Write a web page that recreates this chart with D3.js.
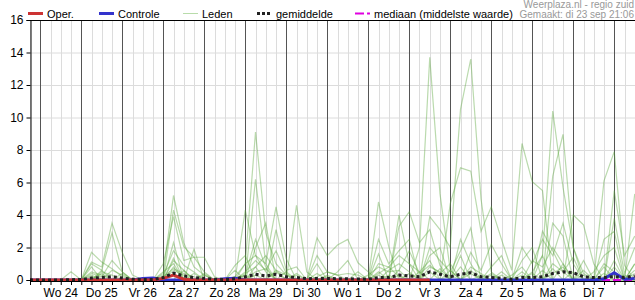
<!DOCTYPE html>
<html>
<head>
<meta charset="utf-8">
<script src="https://cdn.jsdelivr.net/npm/d3@7"></script>
<style>
  body { margin: 0; background: #fff; }
  svg { display: block; font-family: "Liberation Sans", Arial, sans-serif; }
</style>
</head>
<body>
<div id="chart"></div>
<script>
// 6-hourly steps starting di 23 sep 18:00
const startTime = new Date(2025, 8, 23, 18);
const stepHours = 6;

const dayLabels = ["Wo 24", "Do 25", "Vr 26", "Za 27", "Zo 28", "Ma 29", "Di 30",
                   "Wo 1", "Do 2", "Vr 3", "Za 4", "Zo 5", "Ma 6", "Di 7"];
const yTicks = [0, 2, 4, 6, 8, 10, 12, 14, 16];

// operationele run (loopt t/m stap 39)
const oper = [0,0,0,0,0,0,0,0,0,0, 0,0,0,0.1,0.3,0.05,0,0,0,0,
              0,0,0,0,0,0,0,0,0,0, 0,0,0,0,0,0,0,0,0,0];

const controle = [0,0,0,0,0,0,0,0,0,0, 0,0.1,0.12,0,0,0,0,0,0,0.08,
                  0.1,0,0,0,0,0,0,0,0,0, 0,0,0,0,0,0,0,0,0,0,
                  0,0,0,0,0,0,0,0,0,0, 0,0,0,0,0,0,0.08,0.45,0.05,0.1];

const gemiddelde = [0,0,0,0,0.02,0.03,0.12,0.15,0.2,0.12,
                    0.05,0.03,0.03,0.15,0.42,0.25,0.15,0.1,0.05,0.03,
                    0.08,0.2,0.35,0.25,0.35,0.2,0.15,0.08,0.1,0.1,
                    0.08,0.08,0.06,0.05,0.15,0.15,0.3,0.25,0.2,0.5,
                    0.35,0.2,0.35,0.45,0.2,0.15,0.1,0.05,0.15,0.15,
                    0.2,0.4,0.5,0.45,0.2,0.15,0.15,0.2,0.15,0.25];

const mediaan = new Array(60).fill(0);

const leden = [
  [0,0,0,0,0,0,1.7,1.1,0.7,0.2, 0,0,0,0.4,5.2,2.3,0.8,0.3,0,0,
   0.2,1.0,9.1,2.9,1.0,0.3,0,0,0.2,0.5, 0.3,0,0,0,0.4,0.8,0.2,0,2.0,13.7,
   5.3,0.6,0,0,0,0.3,0,0,0,0.5, 1.5,10.4,5.7,2.0,0.4,0,0,0.3,0,0],
  [0,0,0,0,0,0,1.1,0.8,3.5,1.7, 0.3,0,0,0,4.3,2.05,1.4,0.5,0,0,
   0,0,6.2,1.0,4.5,1.3,0,0,0,0, 0,0,0,0,0,0,4.0,1.0,0,3.9,
   3.1,2.0,10.5,13.6,5.0,0.5,0,0,0,0, 0,0,0,0,0,0,6.1,7.9,0.9,0],
  [0,0,0,0,0,0,1.0,0.6,2.9,0.5, 0,0,0,1.0,3.9,1.2,1.4,1.4,0.2,0,
   0,4.3,1.5,0.5,0,0,4.6,0.5,0,0, 0,0,0,0,4.8,2.05,0,0,0,0,
   0,4.7,6.9,6.7,3.0,4.5,2.5,0.6,8.4,6.05, 5.5,0,0,4.0,3.4,1.0,0,0,0,0],
  [0,0,0,0,0.5,0,0.8,0,0,0, 0,0,0,0,2.3,0,0,0,0,0,
   0.9,1.5,0,0,3.1,0.6,0.8,0,2.6,1.5, 2.15,2.5,1.06,0.5,0,0,0,0,0,0,
   0,0,0,1.7,0.6,2.2,1.0,0,0,0, 0,6.4,8.96,2.0,0,0,0,5.5,1.5,2.7],
  [0,0,0,0,0,0,0,0,0,0, 0,0,0,0,1.35,0,1.9,0,0,0,
   0.6,0,2.0,3.5,0,0,0,0,1.5,0.5, 0.3,0.4,0.3,0,1.6,0,3.3,4.2,2.3,3.1,
   0.9,0,1.5,0,0,0,0,0,1.2,2.0, 0,3.5,2.7,0,1.2,0,2.5,3.0,0,5.3],
  [0,0,0,0,0,0,0,0.6,0,0, 0,0,0,0,0.8,0,0,0,0,0,
   0,1.0,1.5,1.0,0,0,0,0,0,0, 0,0,0,0,1.0,0.8,1.5,1.0,0.5,1.2,
   0,0.6,0,0,0,0,0,0,0,0, 1.5,0,0,0,0,0,0,0,0,1.0],
  [0,0,0,0,0,0,0.5,0.3,0,0, 0,0,0,0,0.6,0.3,0,0,0,0,
   0,0.4,0.8,0,0.5,0,0,0,0,0, 0,0,0,0,0.3,0,0.6,0,0,0.8,
   0.5,0,0,0.6,0,0,0,0,0.5,0, 0,1.0,0.5,0,0,0,0,0.8,0,0],
  [0,0,0,0,0,0,0,0,0.6,0.3, 0,0,0,0.5,1.0,0,0.4,0,0,0,
   0,0,0.5,0.7,0,0,0.3,0,0,0, 0,0,0,0,0,0,0,0.4,0,0.5,
   0,0,0.8,0,0,0.4,0,0,0,0, 0.6,0,1.0,0,0,0,0.4,0,0.3,0],
  [0,0,0,0,0,0,0,0.4,0,0, 0,0,0,0,0,0.6,0,0.3,0,0,
   0,0.3,0,0,0.6,0.3,0,0,0.4,0, 0,0,0,0,0,0.3,0,0,0.5,0,
   0,0.3,0,0,0.3,0,0,0,0,0.4, 0,0.7,0,0.5,0,0,0,1.2,0,0.4],
  [0,0,0,0,0,0,0.3,0,0,0, 0,0,0,0,0.4,0,0,0,0,0,
   0.2,0,0.3,0,0,0,0,0,0,0.2, 0,0,0,0,0.5,0,0.3,0,0,0,
   0.7,0,0,0.4,0,0,0.3,0,0.3,0, 0,0.4,0.8,0,0.3,0,0.8,0,0,0],
  [0,0,0,0,0,0,0.4,0.2,1.2,0.5, 0,0,0,0.3,1.8,0.9,0.5,0,0,0,
   0,0.5,1.2,0.6,1.8,0.4,0,0,1.0,0, 0.5,1.2,0,0,2.5,1.0,1.8,2.5,0,1.5,
   2.0,0,2.5,1.0,0,0.8,1.5,0,2.0,1.0, 2.5,1.5,3.5,1.0,0,0.5,1.5,2.0,0,1.0],
  [0,0,0,0,0,0,0,0.5,0.3,0, 0,0,0,0,1.2,0.6,0,0.4,0,0,
   0,0,0.8,1.5,0.6,0,0.4,0,0,0, 0,0,0.5,0,0,0.6,1.0,0.5,0,2.0,
   1.2,0.5,1.8,3.2,0,0,0.5,0,0,1.2, 0.8,2.0,1.0,0,0.6,0,1.0,0.5,0,0.6],
  [0,0,0,0,0,0,0.2,0,0,0.4, 0,0,0,0.2,0.7,0.4,0.2,0,0,0,
   0,0.3,2.5,0.8,0,0.5,0,0,0,0.3, 0,0,0,0.3,0.8,0.5,0.6,1.8,0.4,0.9,
   0.4,1.0,0,0.8,0.4,0,0,0.3,0.8,0, 3.0,1.8,0.5,1.4,0,0,0,3.8,0.4,2.0]
];

const width = 635, height = 300;
const margin = { top: 20, right: 0, bottom: 20, left: 30 };

const timeAt = i => new Date(startTime.getTime() + i * stepHours * 3600 * 1000);
const endTime = timeAt(59);

const svg = d3.select("#chart").append("svg")
    .attr("width", width)
    .attr("height", height);

const x = d3.scaleTime()
    .domain([startTime, endTime])
    .range([margin.left, margin.left + 59 * 10.25]);

const y = d3.scaleLinear()
    .domain([0, 16])
    .range([height - margin.bottom, margin.top]);

const plotRight = width;

// ========= Grid
const grid = svg.append("g");

grid.selectAll(".hgrid")
    .data(yTicks.slice(1))
    .enter()
    .append("line")
    .attr("x1", margin.left).attr("x2", plotRight)
    .attr("y1", d => y(d) + 0.5).attr("y2", d => y(d) + 0.5)
    .attr("stroke", "#dcdcdc");

const sixHours = d3.timeHour.every(6).range(startTime, new Date(endTime.getTime() + 1));
grid.selectAll(".vgrid")
    .data(sixHours)
    .enter()
    .append("line")
    .attr("x1", d => Math.round(x(d)) + 0.5).attr("x2", d => Math.round(x(d)) + 0.5)
    .attr("y1", y(16)).attr("y2", y(0))
    .attr("stroke", d => d.getHours() === 0 ? "#555" : "#dcdcdc");

// ========= Series
const line = d3.line()
    .x((d, i) => x(timeAt(i)))
    .y(d => y(d));

svg.append("g")
    .selectAll("path")
    .data(leden)
    .enter()
    .append("path")
    .attr("d", line)
    .attr("fill", "none")
    .attr("stroke", "#5aa83c")
    .attr("stroke-opacity", 0.42)
    .attr("stroke-width", 1.2);

svg.append("path")
    .datum(mediaan)
    .attr("d", line)
    .attr("fill", "none")
    .attr("stroke", "#e000e0")
    .attr("stroke-width", 2)
    .attr("stroke-dasharray", "8,3");

svg.append("path")
    .datum(controle)
    .attr("d", line)
    .attr("fill", "none")
    .attr("stroke", "#3333cc")
    .attr("stroke-width", 3);

svg.append("path")
    .datum(oper)
    .attr("d", line)
    .attr("fill", "none")
    .attr("stroke", "#cc3333")
    .attr("stroke-width", 3);

svg.append("path")
    .datum(gemiddelde)
    .attr("d", line)
    .attr("fill", "none")
    .attr("stroke", "#222")
    .attr("stroke-width", 3)
    .attr("stroke-dasharray", "3,3");

// ========= Axes
const yAxis = d3.axisLeft(y).tickValues(yTicks).tickSize(4).tickFormat(d3.format("d"));
const gy = svg.append("g")
    .attr("transform", `translate(${margin.left + 0.5},0)`)
    .call(yAxis);
gy.select(".domain").attr("stroke", "#000");
gy.selectAll("text").style("font-size", "12px").attr("fill", "#000");

const xTicks = d3.axisBottom(x).tickValues(sixHours).tickSize(4).tickFormat("");
const gx = svg.append("g")
    .attr("transform", `translate(0,${y(0) + 1})`)
    .call(xTicks);
gx.select(".domain").remove();
gx.selectAll(".tick line").attr("stroke", "#000");

svg.append("line")
    .attr("x1", margin.left).attr("x2", plotRight)
    .attr("y1", y(0) + 1.5).attr("y2", y(0) + 1.5)
    .attr("stroke", "#000");

svg.append("line")
    .attr("x1", margin.left).attr("x2", plotRight)
    .attr("y1", y(16) + 0.5).attr("y2", y(16) + 0.5)
    .attr("stroke", "#000");

// day labels at noon
svg.append("g")
    .selectAll("text")
    .data(dayLabels)
    .enter()
    .append("text")
    .attr("x", (d, i) => x(new Date(2025, 8, 24 + i, 12)))
    .attr("y", 297)
    .attr("text-anchor", "middle")
    .style("font-size", "12px")
    .text(d => d);

// ========= Legend
const legend = [
  { label: "Oper.", x: 28, color: "#cc3333", width: 3, dash: null },
  { label: "Controle", x: 99, color: "#3333cc", width: 3, dash: null },
  { label: "Leden", x: 183, color: "#b8dcaa", width: 1, dash: null },
  { label: "gemiddelde", x: 257, color: "#222", width: 3, dash: "3,2" },
  { label: "mediaan (middelste waarde)", x: 355, color: "#e000e0", width: 2, dash: "9,3" }
];

const lg = svg.append("g")
    .selectAll("g")
    .data(legend)
    .enter()
    .append("g");

lg.append("line")
    .attr("x1", d => d.x).attr("x2", d => d.x + 15)
    .attr("y1", 13.5).attr("y2", 13.5)
    .attr("stroke", d => d.color)
    .attr("stroke-width", d => d.width)
    .attr("stroke-dasharray", d => d.dash);

lg.append("text")
    .attr("x", d => d.x + 19)
    .attr("y", 18)
    .style("font-size", "11px")
    .text(d => d.label);

svg.append("text")
    .attr("x", 634).attr("y", 8)
    .attr("text-anchor", "end")
    .style("font-size", "10px")
    .attr("fill", "#999")
    .text("Weerplaza.nl - regio zuid");

svg.append("text")
    .attr("x", 634).attr("y", 18)
    .attr("text-anchor", "end")
    .style("font-size", "10px")
    .attr("fill", "#999")
    .text("Gemaakt: di 23 sep 21:06");
</script>
</body>
</html>
